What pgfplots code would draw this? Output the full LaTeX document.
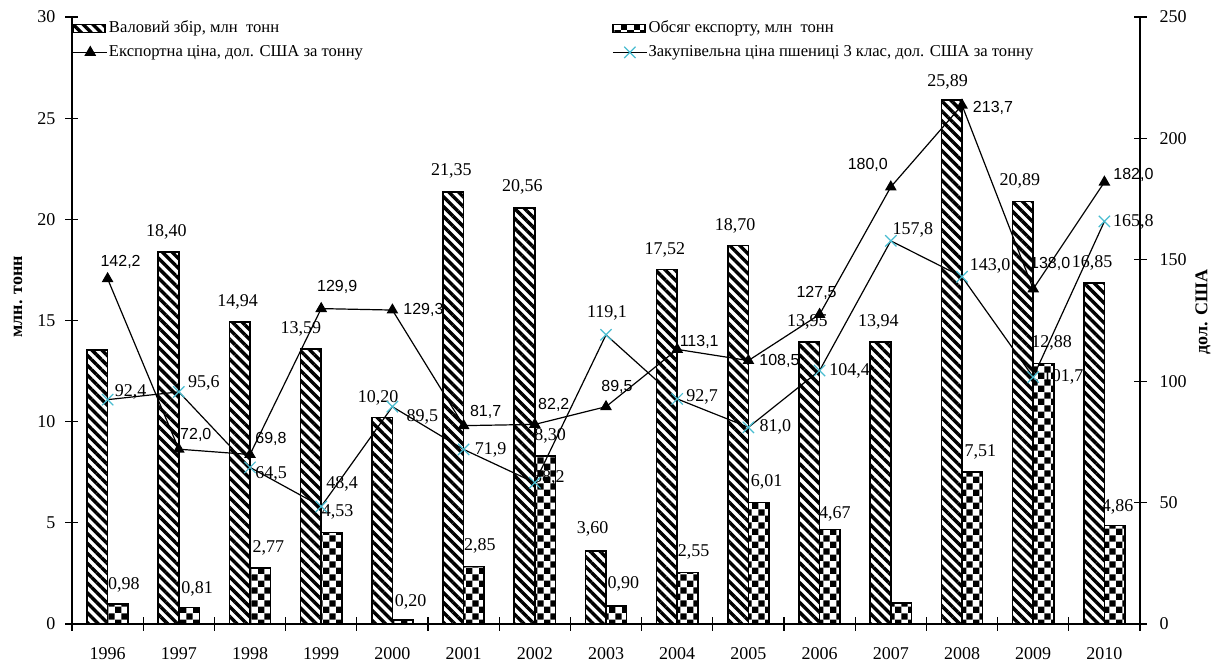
\documentclass[border=0pt]{standalone}
\usepackage{fontspec}
\setmainfont{Liberation Serif}
\newfontfamily\sansf{Liberation Sans}
\usepackage{pgfplots}
\usepackage{pgfplotstable}
\pgfplotsset{compat=1.18}
\usetikzlibrary{patterns.meta}
\definecolor{cyanm}{RGB}{72,188,208}

\tikzdeclarepattern{
  name=checker,
  type=uncolored,
  bounding box={(0,0) and (6.4pt,6.4pt)},
  tile size={(6.4pt,6.4pt)},
  code={\fill (0pt,0pt) rectangle (3.2pt,3.2pt); \fill (3.2pt,3.2pt) rectangle (6.4pt,6.4pt);}
}

\pgfplotstableread{
x harv exp eprice pprice
0 13.55 0.98 142.2 92.4
1 18.40 0.81 72.0 95.6
2 14.94 2.77 69.8 64.5
3 13.59 4.53 129.9 48.4
4 10.20 0.20 129.3 89.5
5 21.35 2.85 81.7 71.9
6 20.56 8.30 82.2 58.2
7 3.60 0.90 89.5 119.1
8 17.52 2.55 113.1 92.7
9 18.70 6.01 108.5 81.0
10 13.95 4.67 127.5 104.4
11 13.94 1.04 180.0 157.8
12 25.89 7.51 213.7 143.0
13 20.89 12.88 138.0 101.7
14 16.85 4.86 182.0 165.8
}\data

\newcommand{\lfont}{\fontsize{9}{10}\selectfont}
\newcommand{\sfont}{\sansf\fontsize{8}{9}\selectfont}
\newcommand{\hl}[5]{\node[font=\lfont,inner sep=0pt] at (axis cs:#1-0.145,#2) [xshift=#3pt,yshift=#4pt] {#5};}
\newcommand{\el}[5]{\node[font=\lfont,inner sep=0pt] at (axis cs:#1+0.145,#2) [xshift=#3pt,yshift=#4pt] {#5};}
\newcommand{\pl}[6]{\node[font=#6,inner sep=0pt] at (axis cs:#1,#2) [xshift=#3pt,yshift=#4pt] {#5};}

\pgfplotsset{
  barleg/.style={legend image code/.code={\draw[##1,/tikz/.cd,bar shift=0pt] (0pt,-2pt) rectangle (16pt,2pt);}},
}

\begin{document}
\begin{tikzpicture}
\begin{axis}[
  scale only axis, width=534pt, height=303.5pt,
  xmin=-0.5, xmax=14.5, ymin=0, ymax=30,
  axis x line*=bottom, axis y line*=left,
  axis line style={line width=0.6pt,-},
  clip=false,
  xtick={0,...,14},
  xticklabels={1996,1997,1998,1999,2000,2001,2002,2003,2004,2005,2006,2007,2008,2009,2010},
  minor xtick={-0.5,0.5,...,14.5},
  ytick={0,5,...,30},
  tick align=center,
  major tick length=6.5pt, minor tick length=6.5pt,
  every major x tick/.append style={draw=none},
  tick style={black,line width=0.6pt},
  tick label style={font=\fontsize{9}{10}\selectfont},
  xticklabel style={yshift=-5pt},
  yticklabel style={xshift=-1.5pt},
  /pgf/number format/assume math mode=true,
  legend columns=2,
  legend cell align=left,
  legend style={at={(0,1)}, anchor=north west, xshift=0pt, yshift=-1pt,
    draw=none, fill=none, inner sep=0pt, row sep=3pt,
    font=\fontsize{8.3}{9}\selectfont,
    nodes={inner sep=0.5pt, text height=6pt, text depth=2pt},
    /tikz/every even column/.append style={column sep=124pt}},
]
\addplot[ybar, bar width=0.29, bar shift=-0.145, draw=black, line width=0.8pt,
  pattern={Lines[angle=-45,distance=3.5pt,line width=1.7pt]}, pattern color=black, barleg]
  table[x=x,y=harv]{\data};
\addlegendentry{Валовий збір, млн\ \ тонн}
\addplot[ybar, bar width=0.29, bar shift=0.145, draw=black, line width=0.8pt,
  pattern=checker, pattern color=black, barleg]
  table[x=x,y=exp]{\data};
\addlegendentry{Обсяг експорту, млн\ \ тонн}
\addlegendimage{black, line width=0.6pt, mark=triangle*, mark size=2.8pt, mark options={black,solid}}
\addlegendentry{Експортна ціна, дол. США за тонну}
\addlegendimage{black, line width=0.6pt, mark=x, mark size=4pt, mark options={cyanm,solid,line width=0.6pt}}
\addlegendentry{Закупівельна ціна пшениці 3 клас, дол. США за тонну}

\coordinate (ll) at (rel axis cs:0,0);
\coordinate (ur) at (rel axis cs:1,1);

\node[font=\bfseries\fontsize{9}{10}\selectfont, rotate=90] at ([xshift=-27pt]rel axis cs:0,0.539) {млн. тонн};

\hl{1}{18.40}{-1}{10}{18,40}
\hl{2}{14.94}{-1}{10}{14,94}
\hl{3}{13.59}{-5}{10}{13,59}
\hl{4}{10.20}{-2}{10}{10,20}
\hl{5}{21.35}{-1}{10.5}{21,35}
\hl{6}{20.56}{-1}{10.5}{20,56}
\hl{7}{3.60}{-1.5}{11}{3,60}
\hl{8}{17.52}{-1}{10}{17,52}
\hl{9}{18.70}{-1.5}{10}{18,70}
\hl{10}{13.95}{-1}{10}{13,95}
\hl{11}{13.94}{-1}{10}{13,94}
\hl{12}{25.89}{-2}{9}{25,89}
\hl{13}{20.89}{-1.5}{10}{20,89}
\hl{14}{16.85}{-1}{10}{16,85}
\el{0}{0.98}{3}{9.5}{0,98}
\el{1}{0.81}{4}{9.5}{0,81}
\el{2}{2.77}{4}{10}{2,77}
\el{3}{4.53}{3}{10}{4,53}
\el{4}{0.20}{4}{9}{0,20}
\el{5}{2.85}{3}{10}{2,85}
\el{6}{8.30}{2.5}{10}{8,30}
\el{7}{0.90}{3.5}{11}{0,90}
\el{8}{2.55}{3}{10}{2,55}
\el{9}{6.01}{4}{10}{6,01}
\el{10}{4.67}{2.5}{8}{4,67}
\el{12}{7.51}{4}{10}{7,51}
\el{13}{12.88}{4}{10}{12,88}
\el{14}{4.86}{1.5}{9.5}{4,86}
\end{axis}

\begin{axis}[
  scale only axis, width=534pt, height=303.5pt,
  xmin=-0.5, xmax=14.5, ymin=0, ymax=250,
  axis x line=none, axis y line*=right,
  axis line style={line width=0.6pt,-},
  clip=false,
  ytick={0,50,...,250},
  tick align=center,
  major tick length=6.5pt,
  tick style={black,line width=0.6pt},
  tick label style={font=\fontsize{9}{10}\selectfont},
  yticklabel style={xshift=3pt},
  /pgf/number format/assume math mode=true,
]
\addplot[black, line width=0.6pt, mark=triangle*, mark size=2.8pt, mark options={black,solid}]
  table[x=x,y=eprice]{\data};
\addplot[black, line width=0.6pt, mark=x, mark size=4pt, mark options={cyanm,solid,line width=0.6pt}]
  table[x=x,y=pprice]{\data};

\node[font=\bfseries\fontsize{9}{10}\selectfont, rotate=90] at ([xshift=31.5pt]rel axis cs:1,0.514) {дол. США};

\pl{0}{142.2}{6.5}{8.5}{142,2}{\sfont}
\pl{1}{72.0}{8.5}{7}{72,0}{\sfont}
\pl{2}{69.8}{10.5}{8}{69,8}{\sfont}
\pl{3}{129.9}{8}{11}{129,9}{\sfont}
\pl{4}{129.3}{15.5}{0}{129,3}{\sfont}
\pl{5}{81.7}{11}{7}{81,7}{\sfont}
\pl{6}{82.2}{9.5}{9.5}{82,2}{\sfont}
\pl{7}{89.5}{5.5}{10}{89,5}{\sfont}
\pl{8}{113.1}{11}{3.5}{113,1}{\sfont}
\pl{9}{108.5}{15.5}{0}{108,5}{\sfont}
\pl{10}{127.5}{-1.5}{10.5}{127,5}{\sfont}
\pl{11}{180.0}{-11.5}{11}{180,0}{\sfont}
\pl{12}{213.7}{15.5}{-1.5}{213,7}{\sfont}
\pl{13}{138.0}{8.5}{12.5}{138,0}{\sfont}
\pl{14}{182.0}{14.5}{3.5}{182,0}{\sfont}
\pl{0}{92.4}{11.5}{4}{92,4}{\lfont}
\pl{1}{95.6}{12.5}{4.5}{95,6}{\lfont}
\pl{2}{64.5}{10.5}{-3.5}{64,5}{\lfont}
\pl{3}{48.4}{10.5}{11.5}{48,4}{\lfont}
\pl{4}{89.5}{15}{-5}{89,5}{\lfont}
\pl{5}{71.9}{13.5}{0}{71,9}{\lfont}
\pl{6}{58.2}{7}{2.5}{58,2}{\lfont}
\pl{7}{119.1}{0.5}{11}{119,1}{\lfont}
\pl{8}{92.7}{12.5}{1}{92,7}{\lfont}
\pl{9}{81.0}{13.5}{0}{81,0}{\lfont}
\pl{10}{104.4}{15}{0}{104,4}{\lfont}
\pl{11}{157.8}{11}{5.5}{157,8}{\lfont}
\pl{12}{143.0}{14}{5.5}{143,0}{\lfont}
\pl{13}{101.7}{15}{0}{101,7}{\lfont}
\pl{14}{165.8}{14.5}{0}{165,8}{\lfont}
\end{axis}
\pgfresetboundingbox
\path ([shift={(-36pt,-20pt)}]ll) rectangle ([shift={(38pt,8.5pt)}]ur);
\end{tikzpicture}
\end{document}
